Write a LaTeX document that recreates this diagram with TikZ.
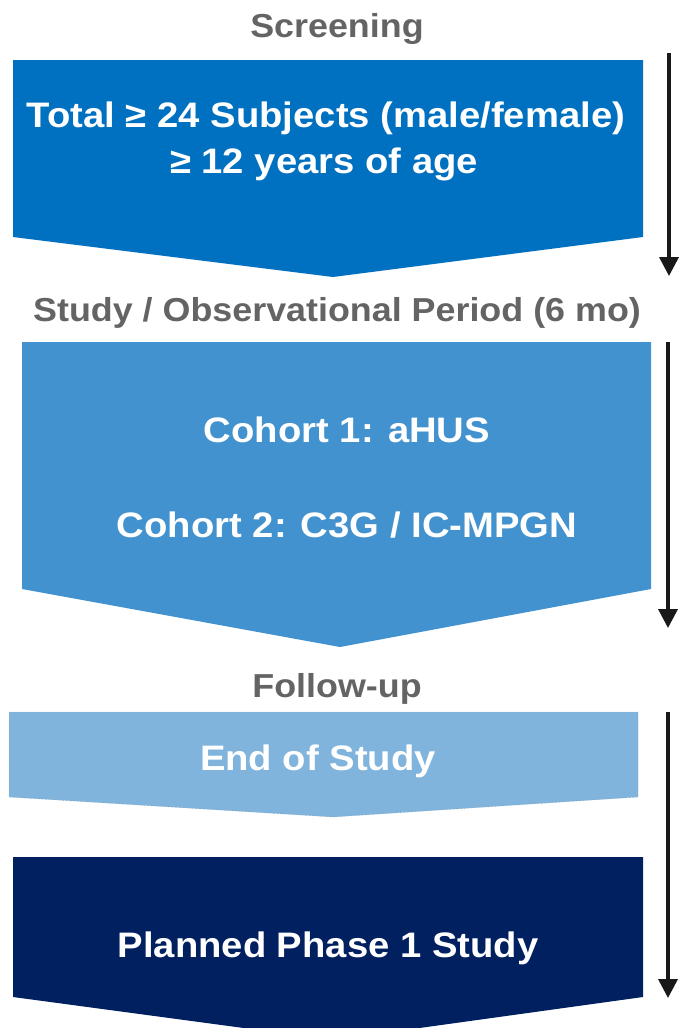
\documentclass[tikz,border=0pt]{standalone}
\usepackage{fontspec}
\setmainfont{Liberation Sans}
\newfontfamily\condfont[FakeStretch=1.08]{Liberation Sans}
\usetikzlibrary{arrows.meta}
\definecolor{boxA}{RGB}{0,112,192}
\definecolor{boxB}{RGB}{66,146,207}
\definecolor{boxC}{RGB}{128,180,220}
\definecolor{boxD}{RGB}{0,32,96}
\definecolor{headgray}{RGB}{100,100,100}
\tikzset{
  heading/.style={anchor=base, text=headgray, font=\condfont\bfseries\fontsize{33.2}{38}\selectfont, inner sep=0pt},
  boxtext/.style={anchor=base, text=white, font=\condfont\bfseries\fontsize{35.4}{40}\selectfont, inner sep=0pt},
  timearrow/.style={line width=3.6pt, -{Triangle[width=19pt,length=19pt]}, black!90}
}
\begin{document}
\begin{tikzpicture}[x=1pt,y=-1pt]
\useasboundingbox (0,0) rectangle (678,1028);
\fill[white] (0,0) rectangle (678,1028);
% chevron boxes
\fill[boxA] (13,60) -- (643,60) -- (643,237) -- (333,277) -- (13,237) -- cycle;
\fill[boxB] (22,342) -- (651,342) -- (651,589) -- (340,647) -- (22,589) -- cycle;
\fill[boxC] (9,712) -- (638,712) -- (638,797) -- (333,817) -- (9,797) -- cycle;
\draw[boxC!80!black, line width=0.4pt, densely dotted] (9,712) -- (638,712) -- (638,797) -- (333,817) -- (9,797) -- cycle;
\fill[boxD] (13,857) -- (643,857) -- (643,997) -- (333,1040) -- (13,997) -- cycle;
% headings
\node[heading] (h1) at (337,37) {Screening};
\node[heading] (h2) at (337,321) {Study / Observational Period (6 mo)};
\node[heading] (h3) at (337,697) {Follow-up};
% box texts
\node[boxtext] (t1a) at (326,127) {Total ≥ 24 Subjects (male/female)};
\node[boxtext] (t1b) at (324,173) {≥ 12 years of age};
\node[boxtext] (t2a) at (347,442) {Cohort 1: aHUS};
\node[boxtext] (t2b) at (347,537) {Cohort 2: C3G / IC-MPGN};
\node[boxtext] (t3) at (318,770) {End of Study};
\node[boxtext] (t4) at (328,957) {Planned Phase 1 Study};
% time arrows
\coordinate (a1s) at (669,53);
\coordinate (a1e) at (669,276);
\coordinate (a2s) at (668,342);
\coordinate (a2e) at (668,628);
\coordinate (a3s) at (668,712);
\coordinate (a3e) at (668,998);
\draw[timearrow] (a1s) -- (a1e);
\draw[timearrow] (a2s) -- (a2e);
\draw[timearrow] (a3s) -- (a3e);
\end{tikzpicture}
\end{document}
